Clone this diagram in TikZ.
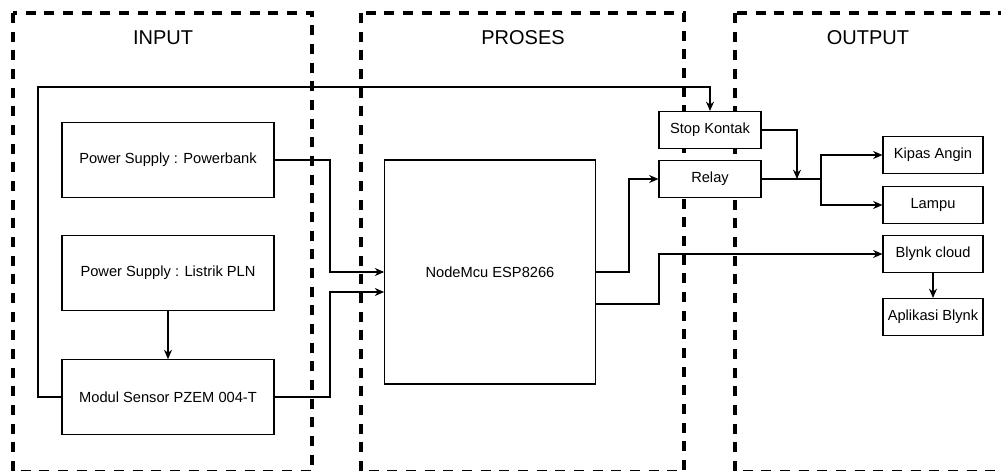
\documentclass[tikz,border=0pt]{standalone}
\usepackage{fontspec}
\setmainfont{Liberation Sans}
\usetikzlibrary{arrows.meta,positioning,calc}
\tikzstyle{stage} = [draw, line width=2.4pt, dash pattern=on 7.5pt off 6.5pt]
\tikzstyle{block} = [draw, fill=white, line width=0.8pt, rectangle, minimum width=159pt, minimum height=56pt, font=\fontsize{11}{13}\selectfont]
\tikzstyle{small} = [draw, fill=white, line width=0.8pt, rectangle, minimum width=75pt, minimum height=27.75pt, font=\fontsize{11}{13}\selectfont, inner sep=1pt]
\tikzstyle{title} = [font=\fontsize{15}{17}\selectfont]
\tikzstyle{wire} = [line width=0.8pt]

\begin{document}
\begin{tikzpicture}[x=0.75pt, y=-0.75pt, >={Stealth[length=7pt,width=6pt]}]
    \useasboundingbox (0,0) rectangle (1001,471);
    % Stages
    \begin{scope}
        \clip (0,0) rectangle (1001,471);
        \draw [stage] (13,13) rectangle (312,472);
        \draw [stage] (361,13) rectangle (684,472);
        \draw [stage] (735,13) rectangle (1010,472);
    \end{scope}
    \node [title] (tin) at (163,38) {INPUT};
    \node [title] (tpro) at (523,38) {PROSES};
    \node [title] (tout) at (868,38) {OUTPUT};

    % Input
    \node [block] (pb) at (168,160) {Power Supply : Powerbank};
    \node [block] (pln) at (168,273) {Power Supply : Listrik PLN};
    \node [block] (pzem) at (168,397) {Modul Sensor PZEM 004-T};
    % Proses
    \node [block, minimum width=158pt, minimum height=168pt] (mcu) at (490,272) {NodeMcu ESP8266};
    \node [small, minimum width=76.5pt] (stop) at (710,130) {Stop Kontak};
    \node [small, minimum width=76.5pt] (relay) at (710,179) {Relay};
    % Output
    \node [small] (kipas) at (933,155) {Kipas Angin};
    \node [small] (lampu) at (933,205) {Lampu};
    \node [small] (blynk) at (933,254) {Blynk cloud};
    \node [small] (app) at (933,317) {Aplikasi Blynk};

    \coordinate (join) at (797,179);
    \coordinate (split) at (821,179);

    % Connections
    \draw [wire, ->] (pb.east) -- (330,160) |- (mcu.west);
    \draw [wire, ->] (pzem.east) -- (330,397) |- ($(mcu.west)+(0,20)$);
    \draw [wire, ->] (pln) -- (pzem);
    \draw [wire, ->] (pzem.west) -| (38,87) -| (stop.north);
    \draw [wire, ->] (stop.east) -| (join);
    \draw [wire] (relay.east) -- (split);
    \draw [wire, ->] (split) |- (kipas.west);
    \draw [wire, ->] (split) |- (lampu.west);
    \draw [wire, ->] (mcu.east) -- (629,272) |- (relay.west);
    \draw [wire, ->] ($(mcu.east)+(0,32)$) -- (659,304) |- (blynk.west);
    \draw [wire, ->] (blynk) -- (app);
\end{tikzpicture}
\end{document}
